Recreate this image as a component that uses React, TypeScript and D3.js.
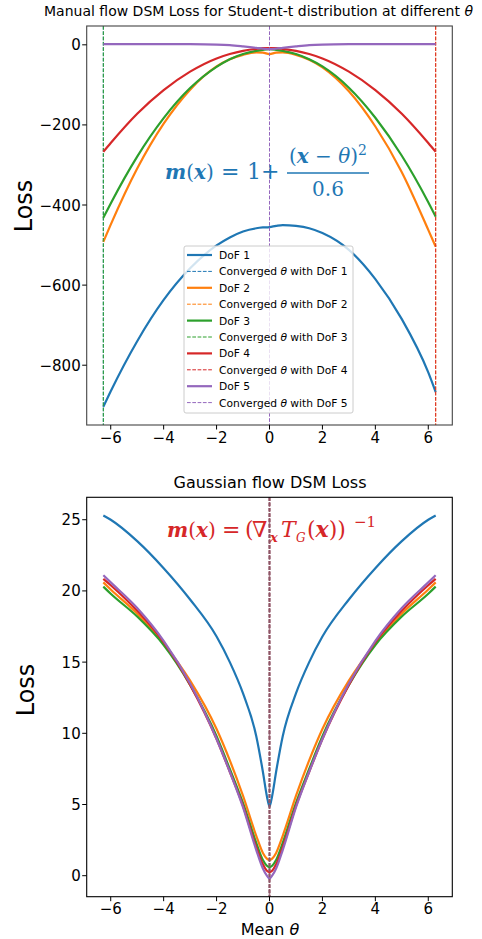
import React from 'react';
import * as d3 from 'd3';

const W = 482;
const H = 939;

const dofLabels = ['DoF 1', 'DoF 2', 'DoF 3', 'DoF 4', 'DoF 5'];
const colors = ['#1f77b4', '#ff7f0e', '#2ca02c', '#d62728', '#9467bd'];

// top panel: manual flow, student-t
const manualTheta = [-6.28, -6, -5, -4, -3, -2, -1.5, -1, -0.5, -0.25, 0, 0.25, 0.5, 1, 1.5, 2, 3, 4, 5, 6, 6.28];
const manualDof1 = [-904, -865, -740, -637, -558, -501, -481, -466, -458, -456, -455, -452, -450, -452, -458, -470, -512, -585, -685, -818, -867];
const manualDof2 = [-492, -449, -309, -197, -112, -54, -36, -25, -19, -19.5, -23, -19.5, -19, -25, -37, -56, -116, -204, -318, -462, -504];
const manualDof3 = [-432, -396, -279, -183, -108, -55, -36, -23, -15, -12.5, -11, -12.5, -15, -23, -36, -54, -107, -182, -277, -393, -429];
const manualDof4 = [-267, -245, -172, -113, -67, -34, -23, -15, -10, -8.5, -8, -8.5, -10, -15, -23, -34, -67, -113, -172, -245, -267];
const manualDof5 = [1.7, 1.7, 1.7, 1.7, 1.5, 0.5, -1, -4, -7.5, -9.5, -11, -9.5, -7.5, -4, -1, 0.5, 1.5, 1.7, 1.7, 1.7, 1.7];
const manualConverged = [-6.28, 6.28, -6.28, 6.28, 0];

// bottom panel: gaussian flow
const gaussTheta = [-6.28, -6, -5, -4, -3, -2, -1.5, -1, -0.5, -0.25, -0.1, 0, 0.1, 0.25, 0.5, 1, 1.5, 2, 3, 4, 5, 6, 6.28];
const gaussDof1 = [25.3, 25.0, 23.5, 21.6, 19.4, 16.8, 15.0, 12.8, 9.8, 7.3, 5.6, 4.85, 5.6, 7.3, 9.8, 12.8, 15.0, 16.8, 19.4, 21.6, 23.5, 25.0, 25.3];
const gaussDof2 = [20.6, 20.1, 18.4, 16.3, 13.7, 10.3, 8.1, 5.6, 2.8, 1.6, 1.2, 1.1, 1.2, 1.6, 2.8, 5.6, 8.1, 10.3, 13.7, 16.3, 18.4, 20.1, 20.6];
const gaussDof3 = [20.3, 19.8, 18.2, 16.2, 13.4, 9.8, 7.5, 5.1, 2.3, 1.1, 0.7, 0.6, 0.7, 1.1, 2.3, 5.1, 7.5, 9.8, 13.4, 16.2, 18.2, 19.8, 20.3];
const gaussDof4 = [20.85, 20.4, 18.6, 16.4, 13.4, 9.6, 7.3, 4.9, 2.0, 0.8, 0.35, 0.25, 0.35, 0.8, 2.0, 4.9, 7.3, 9.6, 13.4, 16.4, 18.6, 20.4, 20.85];
const gaussDof5 = [21.1, 20.6, 18.8, 16.5, 13.5, 9.6, 7.3, 4.8, 1.8, 0.5, 0.0, -0.2, 0.0, 0.5, 1.8, 4.8, 7.3, 9.6, 13.5, 16.5, 18.8, 20.6, 21.1];
const gaussConverged = [0, 0, 0, 0, 0];

const xTicks = [-6, -4, -2, 0, 2, 4, 6];
const manualYTicks = [0, -200, -400, -600, -800];
const gaussYTicks = [0, 5, 10, 15, 20, 25];

const FONT = 'DejaVu Sans';
const MATH = 'DejaVu Serif';
const AX_LEFT = 86.7;
const AX_RIGHT = 452.3;

const fmt = (v: number) => String(v).replace('-', '\u2212');

function padded(vals: number[]): [number, number] {
  const [lo, hi] = d3.extent(vals) as [number, number];
  const p = (hi - lo) * 0.05;
  return [lo - p, hi + p];
}

function Panel({ top, bottom, thetas, series, converged, yTicks, convColor, convWidth, spine, tickBaseline }: any) {
  const x = d3.scaleLinear().domain(padded(thetas)).range([AX_LEFT, AX_RIGHT]);
  const y = d3.scaleLinear().domain(padded(series.flat())).range([bottom, top]);
  const line = d3.line<number>()
    .x((_, i) => x(thetas[i]))
    .y(d => y(d))
    .curve(d3.curveMonotoneX);

  return (
    <g>
      {series.map((s: number[], i: number) => (
        <g key={i}>
          <path d={line(s) || ''} fill="none" stroke={colors[i]} strokeWidth={2.2} strokeLinejoin="round" />
          <line x1={x(converged[i])} x2={x(converged[i])} y1={top} y2={bottom}
            stroke={convColor || colors[i]} strokeWidth={convWidth || 1} strokeDasharray="3.7,1.6" />
        </g>
      ))}
      <rect x={AX_LEFT} y={top} width={AX_RIGHT - AX_LEFT} height={bottom - top} fill="none" stroke={spine} strokeWidth={1.1} />
      {xTicks.map(t => (
        <g key={'x' + t}>
          <line x1={x(t)} x2={x(t)} y1={bottom} y2={bottom + 4.5} stroke="#000" strokeWidth={1} />
          <text x={x(t)} y={tickBaseline} textAnchor="middle" fontFamily={FONT} fontSize={15}>{fmt(t)}</text>
        </g>
      ))}
      {yTicks.map((t: number) => (
        <g key={'y' + t}>
          <line x1={AX_LEFT - 4.5} x2={AX_LEFT} y1={y(t)} y2={y(t)} stroke="#000" strokeWidth={1} />
          <text x={AX_LEFT - 6} y={y(t) + 5.5} textAnchor="end" fontFamily={FONT} fontSize={15}>{fmt(t)}</text>
        </g>
      ))}
    </g>
  );
}

function Legend({ x0, y0 }: { x0: number; y0: number }) {
  const rowH = 16.4;
  return (
    <g fontFamily={FONT} fontSize={10.7}>
      <rect x={x0} y={y0} width={169} height={167} rx={2} fill="#fff" fillOpacity={0.8} stroke="#ccc" strokeWidth={1} />
      {dofLabels.map((lab, i) => {
        const ya = y0 + 9 + i * 2 * rowH;
        const yb = ya + rowH;
        return (
          <g key={lab}>
            <line x1={x0 + 3} x2={x0 + 28} y1={ya} y2={ya} stroke={colors[i]} strokeWidth={2.2} />
            <text x={x0 + 35} y={ya + 4}>{lab}</text>
            <line x1={x0 + 3} x2={x0 + 28} y1={yb} y2={yb} stroke={colors[i]} strokeWidth={1} strokeDasharray="3.7,1.6" />
            <text x={x0 + 35} y={yb + 4}>Converged <tspan fontStyle="italic">θ</tspan> with {lab}</text>
          </g>
        );
      })}
    </g>
  );
}

export default function App() {
  const manual = [manualDof1, manualDof2, manualDof3, manualDof4, manualDof5];
  const gauss = [gaussDof1, gaussDof2, gaussDof3, gaussDof4, gaussDof5];
  const blue = colors[0];
  const red = colors[3];
  const bi = { fontWeight: 'bold', fontStyle: 'italic' } as const;
  return (
    <svg width={W} height={H} style={{ position: 'absolute', left: 0, top: 0, background: '#fff' }}>
      <rect width={W} height={H} fill="#fff" />
      <text x={44} y={16} fontFamily={FONT} fontSize={14}>
        Manual flow DSM Loss for Student-t distribution at different <tspan fontStyle="italic">θ</tspan>
      </text>
      <Panel top={26} bottom={425} thetas={manualTheta} series={manual} converged={manualConverged}
        yTicks={manualYTicks} spine="#444" tickBaseline={443} />
      <text transform="translate(32,206) rotate(-90)" textAnchor="middle" fontFamily={FONT} fontSize={24}>Loss</text>

      {/* top formula */}
      <g fill={blue} fontFamily={MATH} fontSize={22}>
        <text x={165} y={179} fontSize={20}><tspan {...bi}>m</tspan>(<tspan {...bi}>x</tspan>)</text>
        <text x={221} y={179}>=</text>
        <text x={247} y={179}>1</text>
        <text x={261} y={179}>+</text>
        <text x={328} y={163} textAnchor="middle" fontSize={20}>(<tspan {...bi}>x</tspan> − <tspan fontStyle="italic">θ</tspan>)<tspan dy={-8} fontSize={14}>2</tspan></text>
        <line x1={287} x2={369} y1={173} y2={173} stroke={blue} strokeWidth={1.3} />
        <text x={328} y={196} textAnchor="middle" fontSize={20}>0.6</text>
      </g>
      <Legend x0={184} y0={246} />

      <text x={270} y={488} textAnchor="middle" fontFamily={FONT} fontSize={16}>Gaussian flow DSM Loss</text>
      <Panel top={497.3} bottom={896.7} thetas={gaussTheta} series={gauss} converged={gaussConverged}
        yTicks={gaussYTicks} spine="#000" tickBaseline={914} convColor="#8f5566" convWidth={1.4} />
      <text transform="translate(34,690) rotate(-90)" textAnchor="middle" fontFamily={FONT} fontSize={24}>Loss</text>
      <text x={270} y={935} textAnchor="middle" fontFamily={FONT} fontSize={16}>Mean <tspan fontStyle="italic">θ</tspan></text>

      {/* bottom formula */}
      <g fill={red} fontFamily={MATH} fontSize={22}>
        <text x={167} y={537} fontSize={20}><tspan {...bi}>m</tspan>(<tspan {...bi}>x</tspan>)</text>
        <text x={222} y={537}>=</text>
        <text x={245} y={537}>(</text>
        <text x={252} y={537}>∇</text>
        <text x={270} y={542} fontSize={13} {...bi}>x</text>
        <text x={281} y={537} fontStyle="italic">T</text>
        <text x={296} y={542} fontSize={12} fontStyle="italic">G</text>
        <text x={307} y={537}>(<tspan {...bi}>x</tspan>))</text>
        <text x={354} y={527} fontSize={15}>−1</text>
      </g>
    </svg>
  );
}
